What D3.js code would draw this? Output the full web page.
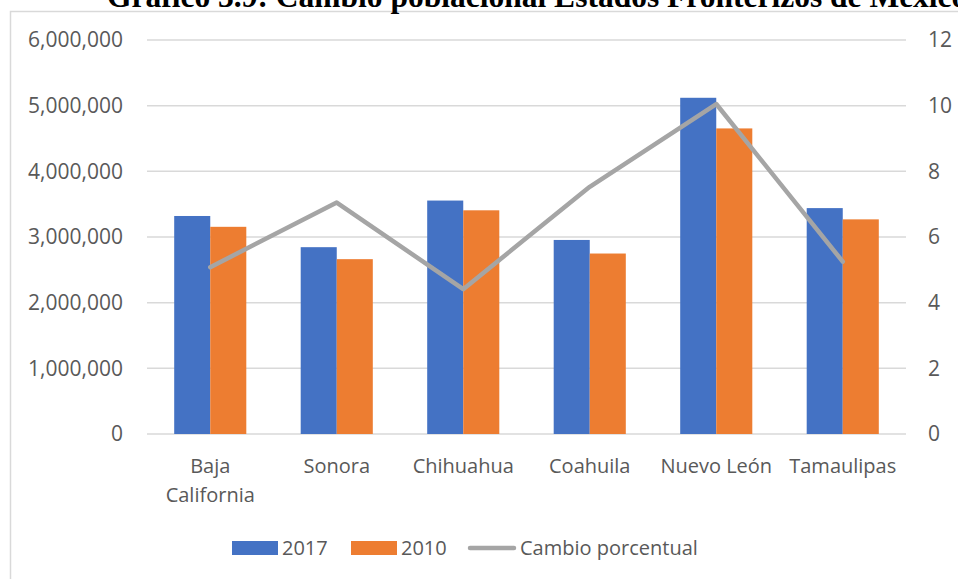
<!DOCTYPE html>
<html lang="es">
<head>
	<meta charset="utf-8">
	<title>Cambio poblacional Estados Fronterizos de México</title>
	<script src="https://d3js.org/d3.v7.min.js"></script>
	<style>
		body { margin: 0; background: #fff; }
		svg { display: block; }
		.tick-label, .cat-label, .legend-label { font-family: "Open Sans", sans-serif; font-size: 20px; fill: #595959; }
		.tick-label { font-size: 21px; }
	</style>
</head>
<body>

<script type="text/javascript">

// data
var estados = ["Baja California", "Sonora", "Chihuahua", "Coahuila", "Nuevo León", "Tamaulipas"];
var pob2017 = [3320000, 2845000, 3555000, 2955000, 5120000, 3440000];
var pob2010 = [3155070, 2662480, 3406465, 2748391, 4653458, 3268554];
var cambio = [5.08, 7.05, 4.41, 7.53, 10.05, 5.25];

var leftTicks = [0, 1000000, 2000000, 3000000, 4000000, 5000000, 6000000];
var rightTicks = [0, 2, 4, 6, 8, 10, 12];

var series = [
	{ name: "2017", values: pob2017, color: "#4472C4" },
	{ name: "2010", values: pob2010, color: "#ED7D31" }
];
var lineColor = "#A5A5A5";

var W = 958, H = 579;
var plotL = 147, plotR = 906, plotT = 40, plotB = 434;

var svg = d3.select("body").append("svg")
	.attr("width", W)
	.attr("height", H);

// chart frame (runs off the page on the right and bottom)
svg.append("rect")
	.attr("x", 10.5)
	.attr("y", 11.5)
	.attr("width", 1000)
	.attr("height", 700)
	.attr("fill", "#fff")
	.attr("stroke", "#D9D9D9")
	.attr("stroke-width", 1.5);

// title, clipped at the top like the reference
svg.append("text")
	.attr("x", 107)
	.attr("y", 7)
	.style("font-family", "'Liberation Serif', 'Times New Roman', serif")
	.style("font-weight", "bold")
	.style("font-size", "31.5px")
	.attr("fill", "#000")
	.text("Gráfico 3.9: Cambio poblacional Estados Fronterizos de México");

// scales
var x0 = d3.scaleBand()
	.domain(estados)
	.range([plotL, plotR])
	.paddingInner(0.43)
	.paddingOuter(0.215);

var x1 = d3.scaleBand()
	.domain(series.map(function(s) { return s.name; }))
	.range([0, x0.bandwidth()]);

var yL = d3.scaleLinear().domain([0, 6000000]).range([plotB, plotT]);
var yR = d3.scaleLinear().domain([0, 12]).range([plotB, plotT]);

// gridlines
svg.append("g").selectAll("line")
	.data(leftTicks)
	.enter()
	.append("line")
	.attr("x1", plotL)
	.attr("x2", plotR)
	.attr("y1", function(d) { return yL(d); })
	.attr("y2", function(d) { return yL(d); })
	.attr("stroke", "#D9D9D9")
	.attr("stroke-width", 1.5);

// left axis labels
var leftAxis = d3.axisLeft(yL)
	.tickValues(leftTicks)
	.tickFormat(d3.format(","))
	.tickSize(0)
	.tickPadding(0);

var gL = svg.append("g")
	.attr("transform", "translate(123,0)")
	.call(leftAxis);
gL.select(".domain").remove();
gL.selectAll("text").attr("class", "tick-label").attr("fill", null).attr("font-size", null).attr("font-family", null);

// right axis labels
var rightAxis = d3.axisRight(yR)
	.tickValues(rightTicks)
	.tickSize(0)
	.tickPadding(0);

var gR = svg.append("g")
	.attr("transform", "translate(928,0)")
	.call(rightAxis);
gR.select(".domain").remove();
gR.selectAll("text").attr("class", "tick-label").attr("fill", null).attr("font-size", null).attr("font-family", null);

// bars
var groups = svg.append("g").selectAll("g")
	.data(estados)
	.enter()
	.append("g")
	.attr("transform", function(d) { return "translate(" + x0(d) + ",0)"; });

groups.selectAll("rect")
	.data(function(d, i) {
		return series.map(function(s) { return { name: s.name, value: s.values[i], color: s.color }; });
	})
	.enter()
	.append("rect")
	.attr("x", function(d) { return x1(d.name); })
	.attr("width", x1.bandwidth())
	.attr("y", function(d) { return yL(d.value); })
	.attr("height", function(d) { return plotB - yL(d.value); })
	.attr("fill", function(d) { return d.color; });

// line for cambio porcentual
var line = d3.line()
	.x(function(d, i) { return x0(estados[i]) + x0.bandwidth() / 2; })
	.y(function(d) { return yR(d); });

svg.append("path")
	.datum(cambio)
	.attr("d", line)
	.attr("fill", "none")
	.attr("stroke", lineColor)
	.attr("stroke-width", 4.5)
	.attr("stroke-linejoin", "round")
	.attr("stroke-linecap", "round");

// category labels, wrapped on spaces where the reference wraps
var catLabels = svg.append("g").selectAll("text")
	.data(estados)
	.enter()
	.append("text")
	.attr("class", "cat-label")
	.attr("text-anchor", "middle")
	.attr("x", function(d) { return x0(d) + x0.bandwidth() / 2; })
	.attr("y", 473);

catLabels.each(function(d) {
	var parts = d == "Baja California" ? ["Baja", "California"] : [d];
	var t = d3.select(this);
	parts.forEach(function(p, j) {
		t.append("tspan")
			.attr("x", t.attr("x"))
			.attr("dy", j == 0 ? 0 : 29)
			.text(p);
	});
});

// legend
var legend = svg.append("g");

legend.append("rect").attr("x", 232).attr("y", 541).attr("width", 46).attr("height", 14).attr("fill", series[0].color);
legend.append("text").attr("class", "legend-label").attr("x", 282).attr("y", 555).text(series[0].name);

legend.append("rect").attr("x", 351).attr("y", 541).attr("width", 46).attr("height", 14).attr("fill", series[1].color);
legend.append("text").attr("class", "legend-label").attr("x", 401).attr("y", 555).text(series[1].name);

legend.append("line").attr("x1", 470).attr("x2", 514).attr("y1", 548).attr("y2", 548)
	.attr("stroke", lineColor).attr("stroke-width", 4.5).attr("stroke-linecap", "round");
legend.append("text").attr("class", "legend-label").attr("x", 520).attr("y", 555).text("Cambio porcentual");

</script>
</body>
</html>
